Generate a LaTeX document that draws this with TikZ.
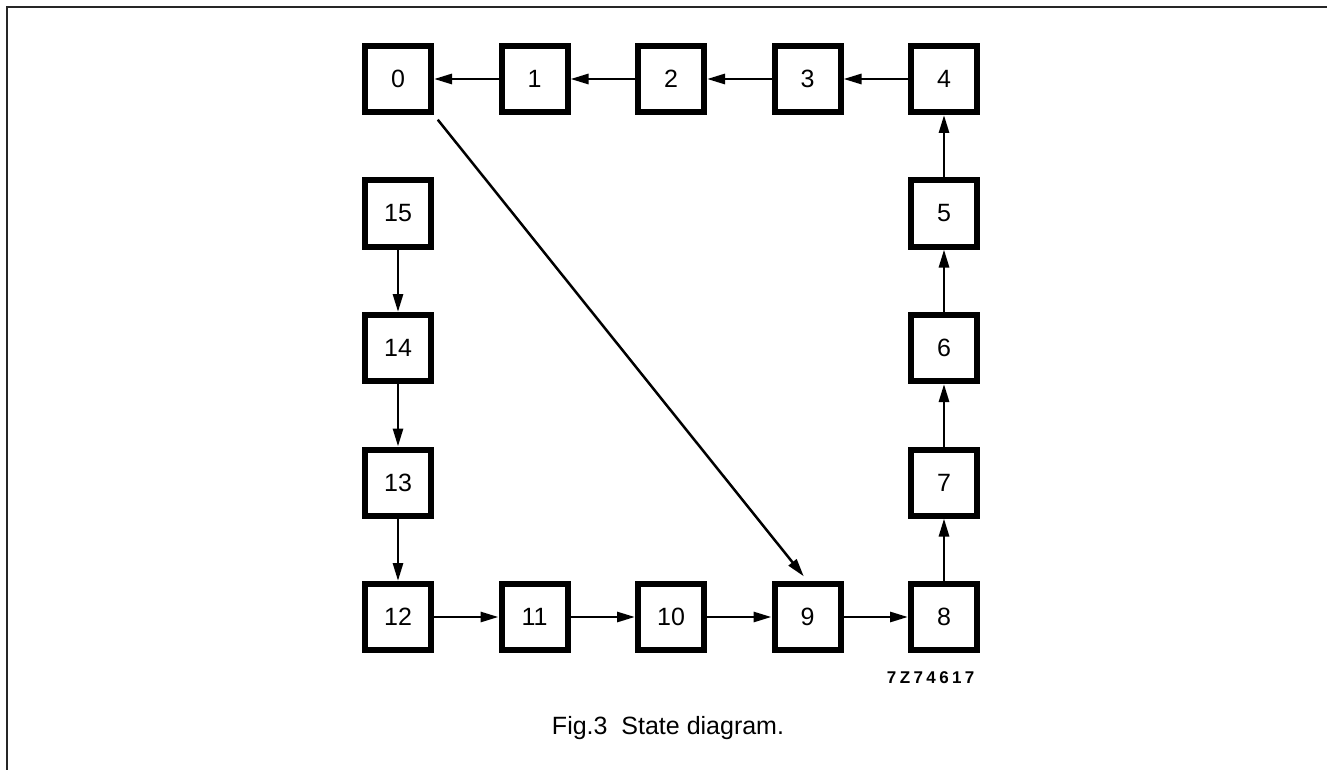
\documentclass[tikz,border=0pt]{standalone}
\usepackage{fontspec}
\setmainfont{Liberation Sans}
\usetikzlibrary{positioning,arrows.meta}

\begin{document}
\begin{tikzpicture}
      [ x=1pt, y=1pt,
        node distance=62.5pt and 64.5pt,
        cell/.style={draw, line width=6pt, minimum size=66pt, inner sep=0pt,
                     font=\fontsize{25}{30}\selectfont},
        >={Triangle[length=18pt,width=10pt]},
        link/.style={->, line width=2.8pt}
      ]
      \useasboundingbox (0,0) rectangle (1327,-770);
      \draw[line width=2pt, black!85] (7,-770) -- (7,-7) -- (1327,-7);

      \node[cell]  (s0)  at (398,-79)           {0};
      \node[cell]  (s1)  [right=of s0]          {1};
      \node[cell]  (s2)  [right=of s1]          {2};
      \node[cell]  (s3)  [right=of s2]          {3};
      \node[cell]  (s4)  [right=of s3]          {4};
      \node[cell]  (s15) [below=of s0]          {15};
      \node[cell]  (s14) [below=of s15]         {14};
      \node[cell]  (s13) [below=of s14]         {13};
      \node[cell]  (s12) [below=of s13]         {12};
      \node[cell]  (s11) [right=of s12]         {11};
      \node[cell]  (s10) [right=of s11]         {10};
      \node[cell]  (s9)  [right=of s10]         {9};
      \node[cell]  (s8)  [right=of s9]          {8};
      \node[cell]  (s7)  [above=of s8]          {7};
      \node[cell]  (s6)  [above=of s7]          {6};
      \node[cell]  (s5)  [above=of s6]          {5};

      \path[link] (s1)  edge (s0)
                  (s2)  edge (s1)
                  (s3)  edge (s2)
                  (s4)  edge (s3)
                  (s5)  edge (s4)
                  (s6)  edge (s5)
                  (s7)  edge (s6)
                  (s8)  edge (s7)
                  (s9)  edge (s8)
                  (s10) edge (s9)
                  (s11) edge (s10)
                  (s12) edge (s11)
                  (s13) edge (s12)
                  (s14) edge (s13)
                  (s15) edge (s14);
      \draw[link, line width=2.5pt, shorten <=6pt, shorten >=6pt] (s0.south east) -- (s9.north);

      \node[anchor=base east, font=\bfseries\fontsize{17}{20}\selectfont\addfontfeature{LetterSpace=20}]
            (code) at (978,-683) {7Z74617};
      \node[anchor=base, font=\fontsize{25}{30}\selectfont]
            (caption) at (668,-734) {Fig.3\ \ State diagram.};
    \end{tikzpicture}
\end{document}
